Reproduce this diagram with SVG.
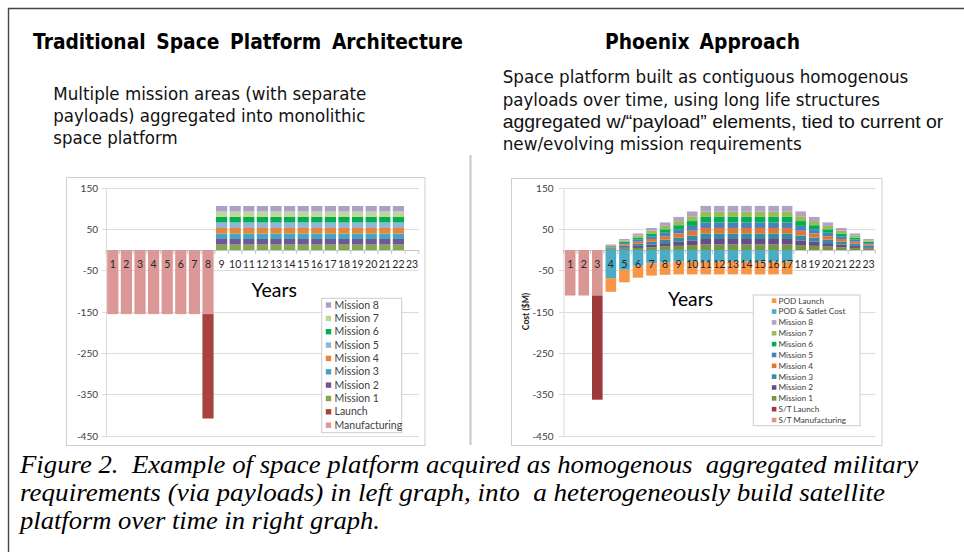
<svg xmlns="http://www.w3.org/2000/svg" xmlns:xlink="http://www.w3.org/1999/xlink" width="964" height="552" viewBox="0 0 964 552">
  <style>
    .head { font-family: "DejaVu Sans", "Liberation Sans", sans-serif; font-weight: bold; font-size: 22px; fill: #000; }
    .sub { font-family: "DejaVu Sans", "Liberation Sans", sans-serif; font-size: 18.5px; fill: #111; }
    .subn { font-family: "Liberation Sans", Arial, sans-serif; }
    .cap { font-family: "Liberation Serif", "DejaVu Serif", serif; font-style: italic; font-size: 25px; fill: #000; white-space: pre; }
    .frame { fill: #fff; stroke: #cfcfcf; stroke-width: 1; }
    .grid { stroke: #dcdcdc; stroke-width: 1; fill: none; }
    .axis { stroke: #c4c4c4; stroke-width: 1; fill: none; }
    .ylab { font-family: Lato, "Open Sans", "Liberation Sans", sans-serif; font-size: 10px; fill: #404040; text-anchor: end; }
    .blab { font-family: Lato, "Open Sans", "Liberation Sans", sans-serif; font-size: 10.5px; fill: #262626; text-anchor: middle; }
    .years { font-family: Lato, "Open Sans", "Liberation Sans", sans-serif; font-size: 20px; fill: #000; }
    .legbox { fill: #fff; stroke: #cccccc; stroke-width: 1; }
    .legL { font-family: Lato, "Open Sans", "Liberation Sans", sans-serif; font-size: 10.5px; fill: #404040; }
    .legR { font-family: Lato, "Open Sans", "Liberation Sans", sans-serif; font-size: 8.2px; fill: #404040; }
    .ytitle { font-family: Lato, "Liberation Sans", sans-serif; font-size: 8.6px; font-weight: bold; fill: #262626; text-anchor: middle; }

    /* left chart series */
    .lm1 { fill: #86a550; } .lm2 { fill: #6d5797; } .lm3 { fill: #45a5bf; } .lm4 { fill: #e8833a; }
    .lm5 { fill: #95b3d7; } .lm6 { fill: #00b050; } .lm7 { fill: #c0d598; } .lm8 { fill: #ae9fca; }
    .lmfg { fill: #dc9896; } .llau { fill: #a8423f; }
    /* right chart series */
    .rm1 { fill: #77953f; } .rm2 { fill: #674c8a; } .rm3 { fill: #368ba2; } .rm4 { fill: #dd7832; }
    .rm5 { fill: #4b7fc0; } .rm6 { fill: #00b050; } .rm7 { fill: #9bbb59; } .rm8 { fill: #b3a2c7; }
    .rpod { fill: #4bacc6; } .rpl { fill: #f79646; } .rmfg { fill: #d99694; } .rlau { fill: #9c3b39; }
  </style>

  <defs>
    <!-- eight mission bands, full size, left chart -->
    <g id="stackL">
      <rect class="lm1" x="0" y="-5.5" width="11.2" height="5.5"/>
      <rect class="lm2" x="0" y="-11" width="11.2" height="5.5"/>
      <rect class="lm3" x="0" y="-16.5" width="11.2" height="5.5"/>
      <rect class="lm4" x="0" y="-22" width="11.2" height="5.5"/>
      <rect class="lm5" x="0" y="-27.5" width="11.2" height="5.5"/>
      <rect class="lm6" x="0" y="-33" width="11.2" height="5.5"/>
      <rect class="lm7" x="0" y="-38.5" width="11.2" height="5.5"/>
      <rect class="lm8" x="0" y="-44" width="11.2" height="5.5"/>
    </g>
    <!-- eight mission bands, unit stack, right chart (scaled per year) -->
    <g id="stackR">
      <rect class="rm1" x="0" y="-5.512" width="10.6" height="5.512"/>
      <rect class="rm2" x="0" y="-11.024" width="10.6" height="5.512"/>
      <rect class="rm3" x="0" y="-16.536" width="10.6" height="5.512"/>
      <rect class="rm4" x="0" y="-22.048" width="10.6" height="5.512"/>
      <rect class="rm5" x="0" y="-27.56" width="10.6" height="5.512"/>
      <rect class="rm6" x="0" y="-33.072" width="10.6" height="5.512"/>
      <rect class="rm7" x="0" y="-38.584" width="10.6" height="5.512"/>
      <rect class="rm8" x="0" y="-44.1" width="10.6" height="5.516"/>
    </g>
    <!-- steady-state POD costs below the axis -->
    <g id="podR">
      <rect class="rpod" x="0" y="0" width="10.6" height="11.6"/>
      <rect class="rpl" x="0" y="11.6" width="10.6" height="12.8"/>
    </g>
  </defs>

  <rect width="964" height="552" fill="#fff"/>

  <!-- page frame -->
  <path d="M8.5 552V8.5H964" fill="none" stroke="#444" stroke-width="1.4"/>

  <!-- headings -->
  <text class="head" x="33" y="48.5" word-spacing="4.9" textLength="430" lengthAdjust="spacingAndGlyphs">Traditional Space Platform Architecture</text>
  <text class="head" x="605" y="48.5" word-spacing="4.1" textLength="195" lengthAdjust="spacingAndGlyphs">Phoenix Approach</text>

  <g id="left-desc">
    <text class="sub" x="53.3" y="99.5" textLength="313" lengthAdjust="spacingAndGlyphs">Multiple mission areas (with separate</text>
    <text class="sub" x="53.3" y="122" textLength="312" lengthAdjust="spacingAndGlyphs">payloads) aggregated into monolithic</text>
    <text class="sub" x="53.3" y="144.3" textLength="124.4" lengthAdjust="spacingAndGlyphs">space platform</text>
  </g>
  <g id="right-desc">
    <text class="sub" x="502.7" y="83.3" textLength="405.6" lengthAdjust="spacingAndGlyphs">Space platform built as contiguous homogenous</text>
    <text class="sub" x="502.7" y="105.6" textLength="377.3" lengthAdjust="spacingAndGlyphs">payloads over time, using long life structures</text>
    <text class="sub subn" x="502.7" y="127.9" textLength="440.6" lengthAdjust="spacingAndGlyphs">aggregated w/“payload” elements, tied to current or</text>
    <text class="sub" x="502.7" y="150.2" textLength="299" lengthAdjust="spacingAndGlyphs">new/evolving mission requirements</text>
  </g>

  <!-- divider between the two panels -->
  <line x1="470.5" y1="155" x2="470.5" y2="445" stroke="#c6c6c6" stroke-width="2"/>

  <!-- ===== left chart ===== -->
  <g id="left-chart">
    <rect class="frame" x="66.5" y="177.5" width="358.5" height="268"/>
    <g id="left-grid">
      <path class="grid" d="M102 188.5H418.8M102 229.5H418.8M102 270.5H418.8M102 312.5H418.8M102 353.5H418.8M102 394.5H418.8M102 436.5H418.8"/>
      <path class="grid" d="M106.5 188V436.5"/>
      <path class="axis" d="M106 250.5H418.8M106 250v4M119.6 250v4M133.2 250v4M146.8 250v4M160.4 250v4M174 250v4M187.6 250v4M201.2 250v4M214.8 250v4M228.4 250v4M242 250v4M255.6 250v4M269.2 250v4M282.8 250v4M296.4 250v4M310 250v4M323.6 250v4M337.2 250v4M350.8 250v4M364.4 250v4M378 250v4M391.6 250v4M405.2 250v4M418.8 250v4"/>
    </g>
    <g id="left-yaxis">
      <text class="ylab" x="98" y="192">150</text>
      <text class="ylab" x="98" y="233">50</text>
      <text class="ylab" x="98" y="274.1">-50</text>
      <text class="ylab" x="98" y="316">-150</text>
      <text class="ylab" x="98" y="357">-250</text>
      <text class="ylab" x="98" y="398.1">-350</text>
      <text class="ylab" x="98" y="440">-450</text>
    </g>
    <g id="left-bars">
      <rect class="lmfg" x="107.2" y="250" width="11.2" height="64.1"/>
      <rect class="lmfg" x="120.8" y="250" width="11.2" height="64.1"/>
      <rect class="lmfg" x="134.4" y="250" width="11.2" height="64.1"/>
      <rect class="lmfg" x="148" y="250" width="11.2" height="64.1"/>
      <rect class="lmfg" x="161.6" y="250" width="11.2" height="64.1"/>
      <rect class="lmfg" x="175.2" y="250" width="11.2" height="64.1"/>
      <rect class="lmfg" x="188.8" y="250" width="11.2" height="64.1"/>
      <rect class="lmfg" x="202.4" y="250" width="11.2" height="64.1"/>
      <rect class="llau" x="202.4" y="314.1" width="11.2" height="104.4"/>
      <use xlink:href="#stackL" href="#stackL" x="216" y="250"/>
      <use xlink:href="#stackL" href="#stackL" x="229.6" y="250"/>
      <use xlink:href="#stackL" href="#stackL" x="243.2" y="250"/>
      <use xlink:href="#stackL" href="#stackL" x="256.8" y="250"/>
      <use xlink:href="#stackL" href="#stackL" x="270.4" y="250"/>
      <use xlink:href="#stackL" href="#stackL" x="284" y="250"/>
      <use xlink:href="#stackL" href="#stackL" x="297.6" y="250"/>
      <use xlink:href="#stackL" href="#stackL" x="311.2" y="250"/>
      <use xlink:href="#stackL" href="#stackL" x="324.8" y="250"/>
      <use xlink:href="#stackL" href="#stackL" x="338.4" y="250"/>
      <use xlink:href="#stackL" href="#stackL" x="352" y="250"/>
      <use xlink:href="#stackL" href="#stackL" x="365.6" y="250"/>
      <use xlink:href="#stackL" href="#stackL" x="379.2" y="250"/>
      <use xlink:href="#stackL" href="#stackL" x="392.8" y="250"/>
    </g>
    <g id="left-years">
      <text class="blab" x="112.8" y="268">1</text>
      <text class="blab" x="126.4" y="268">2</text>
      <text class="blab" x="140" y="268">3</text>
      <text class="blab" x="153.6" y="268">4</text>
      <text class="blab" x="167.2" y="268">5</text>
      <text class="blab" x="180.8" y="268">6</text>
      <text class="blab" x="194.4" y="268">7</text>
      <text class="blab" x="208" y="268">8</text>
      <text class="blab" x="221.6" y="268">9</text>
      <text class="blab" x="235.2" y="268">10</text>
      <text class="blab" x="248.8" y="268">11</text>
      <text class="blab" x="262.4" y="268">12</text>
      <text class="blab" x="276" y="268">13</text>
      <text class="blab" x="289.6" y="268">14</text>
      <text class="blab" x="303.2" y="268">15</text>
      <text class="blab" x="316.8" y="268">16</text>
      <text class="blab" x="330.4" y="268">17</text>
      <text class="blab" x="344" y="268">18</text>
      <text class="blab" x="357.6" y="268">19</text>
      <text class="blab" x="371.2" y="268">20</text>
      <text class="blab" x="384.8" y="268">21</text>
      <text class="blab" x="398.4" y="268">22</text>
      <text class="blab" x="412" y="268">23</text>
      <text class="years" x="251.5" y="297" textLength="45.5" lengthAdjust="spacingAndGlyphs">Years</text>
    </g>
    <g id="left-legend">
      <rect class="legbox" x="321.7" y="298.3" width="80" height="134.4"/>
      <rect class="lm8" x="325.8" y="302.3" width="5.4" height="5.4"/><text class="legL" x="334.5" y="308.6">Mission 8</text>
      <rect class="lm7" x="325.8" y="315.7" width="5.4" height="5.4"/><text class="legL" x="334.5" y="322">Mission 7</text>
      <rect class="lm6" x="325.8" y="329" width="5.4" height="5.4"/><text class="legL" x="334.5" y="335.3">Mission 6</text>
      <rect class="lm5" x="325.8" y="342.4" width="5.4" height="5.4"/><text class="legL" x="334.5" y="348.7">Mission 5</text>
      <rect class="lm4" x="325.8" y="355.7" width="5.4" height="5.4"/><text class="legL" x="334.5" y="362">Mission 4</text>
      <rect class="lm3" x="325.8" y="369.1" width="5.4" height="5.4"/><text class="legL" x="334.5" y="375.4">Mission 3</text>
      <rect class="lm2" x="325.8" y="382.4" width="5.4" height="5.4"/><text class="legL" x="334.5" y="388.7">Mission 2</text>
      <rect class="lm1" x="325.8" y="395.8" width="5.4" height="5.4"/><text class="legL" x="334.5" y="402.1">Mission 1</text>
      <rect class="llau" x="325.8" y="409.1" width="5.4" height="5.4"/><text class="legL" x="334.5" y="415.4">Launch</text>
      <rect class="lmfg" x="325.8" y="422.5" width="5.4" height="5.4"/><text class="legL" x="334.5" y="428.8">Manufacturing</text>
    </g>
  </g>

  <!-- ===== right chart ===== -->
  <g id="right-chart">
    <rect class="frame" x="511.5" y="178.5" width="370.5" height="267"/>
    <g id="right-grid">
      <path class="grid" d="M559 188.5H875.3M559 229.5H875.3M559 270.5H875.3M559 312.5H875.3M559 353.5H875.3M559 394.5H875.3M559 436.5H875.3"/>
      <path class="grid" d="M563.9 188V436.5"/>
      <path class="axis" d="M563.4 250.5H875.3M563.4 250v4M576.96 250v4M590.52 250v4M604.08 250v4M617.64 250v4M631.2 250v4M644.76 250v4M658.32 250v4M671.88 250v4M685.44 250v4M699 250v4M712.56 250v4M726.12 250v4M739.68 250v4M753.24 250v4M766.8 250v4M780.36 250v4M793.92 250v4M807.48 250v4M821.04 250v4M834.6 250v4M848.16 250v4M861.72 250v4M875.28 250v4"/>
    </g>
    <g id="right-yaxis">
      <text class="ylab" x="553.5" y="192">150</text>
      <text class="ylab" x="553.5" y="233">50</text>
      <text class="ylab" x="553.5" y="274.1">-50</text>
      <text class="ylab" x="553.5" y="316">-150</text>
      <text class="ylab" x="553.5" y="357">-250</text>
      <text class="ylab" x="553.5" y="398.1">-350</text>
      <text class="ylab" x="553.5" y="440">-450</text>
      <text class="ytitle" transform="translate(529.2 311.5) rotate(-90)">Cost ($M)</text>
    </g>
    <g id="right-bars">
      <!-- satellite/truss build and launch -->
      <rect class="rmfg" x="564.88" y="250" width="10.6" height="45.5"/>
      <rect class="rmfg" x="578.44" y="250" width="10.6" height="45.5"/>
      <rect class="rmfg" x="592" y="250" width="10.6" height="45.5"/>
      <rect class="rlau" x="592" y="295.5" width="10.6" height="104.2"/>
      <!-- POD costs, ramping in -->
      <rect class="rpod" x="605.56" y="250" width="10.6" height="28.1"/>
      <rect class="rpl" x="605.56" y="278.1" width="10.6" height="13.7"/>
      <rect class="rpod" x="619.12" y="250" width="10.6" height="19.8"/>
      <rect class="rpl" x="619.12" y="269.8" width="10.6" height="12.5"/>
      <rect class="rpod" x="632.68" y="250" width="10.6" height="15.7"/>
      <rect class="rpl" x="632.68" y="265.7" width="10.6" height="12"/>
      <rect class="rpod" x="646.24" y="250" width="10.6" height="13.2"/>
      <rect class="rpl" x="646.24" y="263.2" width="10.6" height="12.4"/>
      <rect class="rpod" x="659.8" y="250" width="10.6" height="12.4"/>
      <rect class="rpl" x="659.8" y="262.4" width="10.6" height="12.4"/>
      <use xlink:href="#podR" href="#podR" x="673.36" y="250"/>
      <use xlink:href="#podR" href="#podR" x="686.92" y="250"/>
      <use xlink:href="#podR" href="#podR" x="700.48" y="250"/>
      <use xlink:href="#podR" href="#podR" x="714.04" y="250"/>
      <use xlink:href="#podR" href="#podR" x="727.6" y="250"/>
      <use xlink:href="#podR" href="#podR" x="741.16" y="250"/>
      <use xlink:href="#podR" href="#podR" x="754.72" y="250"/>
      <use xlink:href="#podR" href="#podR" x="768.28" y="250"/>
      <use xlink:href="#podR" href="#podR" x="781.84" y="250"/>
      <!-- mission payload value, growing then retiring -->
      <use xlink:href="#stackR" href="#stackR" transform="translate(605.56 250) scale(1 0.125)"/>
      <use xlink:href="#stackR" href="#stackR" transform="translate(619.12 250) scale(1 0.25)"/>
      <use xlink:href="#stackR" href="#stackR" transform="translate(632.68 250) scale(1 0.375)"/>
      <use xlink:href="#stackR" href="#stackR" transform="translate(646.24 250) scale(1 0.5)"/>
      <use xlink:href="#stackR" href="#stackR" transform="translate(659.8 250) scale(1 0.625)"/>
      <use xlink:href="#stackR" href="#stackR" transform="translate(673.36 250) scale(1 0.75)"/>
      <use xlink:href="#stackR" href="#stackR" transform="translate(686.92 250) scale(1 0.875)"/>
      <use xlink:href="#stackR" href="#stackR" transform="translate(700.48 250)"/>
      <use xlink:href="#stackR" href="#stackR" transform="translate(714.04 250)"/>
      <use xlink:href="#stackR" href="#stackR" transform="translate(727.6 250)"/>
      <use xlink:href="#stackR" href="#stackR" transform="translate(741.16 250)"/>
      <use xlink:href="#stackR" href="#stackR" transform="translate(754.72 250)"/>
      <use xlink:href="#stackR" href="#stackR" transform="translate(768.28 250)"/>
      <use xlink:href="#stackR" href="#stackR" transform="translate(781.84 250)"/>
      <use xlink:href="#stackR" href="#stackR" transform="translate(795.4 250) scale(1 0.875)"/>
      <use xlink:href="#stackR" href="#stackR" transform="translate(808.96 250) scale(1 0.75)"/>
      <use xlink:href="#stackR" href="#stackR" transform="translate(822.52 250) scale(1 0.625)"/>
      <use xlink:href="#stackR" href="#stackR" transform="translate(836.08 250) scale(1 0.5)"/>
      <use xlink:href="#stackR" href="#stackR" transform="translate(849.64 250) scale(1 0.375)"/>
      <use xlink:href="#stackR" href="#stackR" transform="translate(863.2 250) scale(1 0.25)"/>
    </g>
    <g id="right-years">
      <text class="blab" x="570.18" y="268">1</text>
      <text class="blab" x="583.74" y="268">2</text>
      <text class="blab" x="597.3" y="268">3</text>
      <text class="blab" x="610.86" y="268">4</text>
      <text class="blab" x="624.42" y="268">5</text>
      <text class="blab" x="637.98" y="268">6</text>
      <text class="blab" x="651.54" y="268">7</text>
      <text class="blab" x="665.1" y="268">8</text>
      <text class="blab" x="678.66" y="268">9</text>
      <text class="blab" x="692.22" y="268">10</text>
      <text class="blab" x="705.78" y="268">11</text>
      <text class="blab" x="719.34" y="268">12</text>
      <text class="blab" x="732.9" y="268">13</text>
      <text class="blab" x="746.46" y="268">14</text>
      <text class="blab" x="760.02" y="268">15</text>
      <text class="blab" x="773.58" y="268">16</text>
      <text class="blab" x="787.14" y="268">17</text>
      <text class="blab" x="800.7" y="268">18</text>
      <text class="blab" x="814.26" y="268">19</text>
      <text class="blab" x="827.82" y="268">20</text>
      <text class="blab" x="841.38" y="268">21</text>
      <text class="blab" x="854.94" y="268">22</text>
      <text class="blab" x="868.5" y="268">23</text>
      <text class="years" x="668" y="306" textLength="45" lengthAdjust="spacingAndGlyphs">Years</text>
    </g>
    <g id="right-legend">
      <rect class="legbox" x="753.3" y="295" width="106.7" height="130.7"/>
      <rect class="rpl" x="771.8" y="298.4" width="4.6" height="4.6"/><text class="legR" x="778.5" y="303.6">POD Launch</text>
      <rect class="rpod" x="771.8" y="309.25" width="4.6" height="4.6"/><text class="legR" x="778.5" y="314.45">POD &amp; Satlet Cost</text>
      <rect class="rm8" x="771.8" y="320.1" width="4.6" height="4.6"/><text class="legR" x="778.5" y="325.3">Mission 8</text>
      <rect class="rm7" x="771.8" y="330.95" width="4.6" height="4.6"/><text class="legR" x="778.5" y="336.15">Mission 7</text>
      <rect class="rm6" x="771.8" y="341.8" width="4.6" height="4.6"/><text class="legR" x="778.5" y="347">Mission 6</text>
      <rect class="rm5" x="771.8" y="352.65" width="4.6" height="4.6"/><text class="legR" x="778.5" y="357.85">Mission 5</text>
      <rect class="rm4" x="771.8" y="363.5" width="4.6" height="4.6"/><text class="legR" x="778.5" y="368.7">Mission 4</text>
      <rect class="rm3" x="771.8" y="374.35" width="4.6" height="4.6"/><text class="legR" x="778.5" y="379.55">Mission 3</text>
      <rect class="rm2" x="771.8" y="385.2" width="4.6" height="4.6"/><text class="legR" x="778.5" y="390.4">Mission 2</text>
      <rect class="rm1" x="771.8" y="396.05" width="4.6" height="4.6"/><text class="legR" x="778.5" y="401.25">Mission 1</text>
      <rect class="rlau" x="771.8" y="406.9" width="4.6" height="4.6"/><text class="legR" x="778.5" y="412.1">S/T Launch</text>
      <rect class="rmfg" x="771.8" y="417.75" width="4.6" height="4.6"/><text class="legR" x="778.5" y="422.95">S/T Manufacturing</text>
    </g>
  </g>

  <!-- figure caption -->
  <g id="caption">
    <text class="cap" x="20" y="473" textLength="898" lengthAdjust="spacingAndGlyphs">Figure 2.  Example of space platform acquired as homogenous  aggregated military</text>
    <text class="cap" x="20" y="501" textLength="865" lengthAdjust="spacingAndGlyphs">requirements (via payloads) in left graph, into  a heterogeneously build satellite</text>
    <text class="cap" x="20" y="529" textLength="360" lengthAdjust="spacingAndGlyphs">platform over time in right graph.</text>
  </g>
</svg>
